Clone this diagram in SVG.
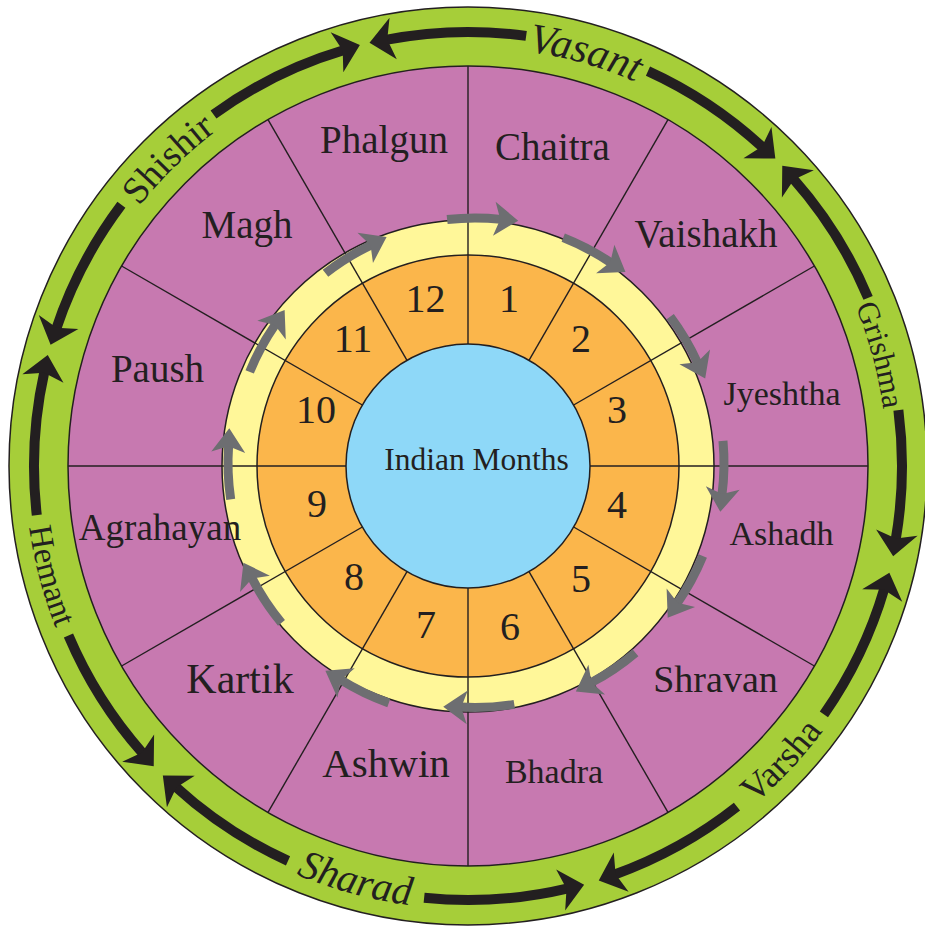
<svg xmlns="http://www.w3.org/2000/svg" width="925" height="927" viewBox="0 0 925 927">
<style>
.t{font-family:'Liberation Serif','Times New Roman',Times,'DejaVu Serif',serif;fill:#231f20;text-anchor:middle}
.m{font-size:39px}
.n{font-size:40px}
.ring{stroke:#231f20;stroke-width:1.5}
.sep{stroke:#231f20;stroke-width:1.4}
.blk{fill:none;stroke:#231f20;stroke-width:10}
.gry{fill:none;stroke:#6d6e71;stroke-width:9}
</style>
<defs>
<path id="cwPath" d="M 468 47 A 419 419 0 1 1 468 885 A 419 419 0 1 1 468 47"/>
<path id="ccwPath" d="M 468 23 A 443 443 0 1 0 468 909 A 443 443 0 1 0 468 23"/>
<polygon id="hcw" points="468,11 492,32 468,53 474,32" fill="#231f20"/>
<polygon id="hccw" points="468,11 444,32 468,53 462,32" fill="#231f20"/>
<g id="ga">
<circle cx="475" cy="463" r="246" class="gry" stroke-dasharray="54.1 3000" transform="rotate(-97.5 475 463)"/>
<polygon points="475,200 499,217 475,234 481,217" fill="#6d6e71" transform="rotate(3.5 475 463)"/>
</g>
</defs>

<g id="rings">
<circle cx="468" cy="466" r="459" fill="#a6ce39" class="ring"/>
<circle cx="468" cy="466" r="400" fill="#c779b0" class="ring"/>
<circle cx="468" cy="466" r="246" fill="#fff799" class="ring"/>
<circle cx="468" cy="466" r="211" fill="#fbb64b" class="ring"/>
</g>
<g id="sectors" class="sep">
<line x1="468" y1="344" x2="468" y2="66" transform="rotate(0 468 466)"/>
<line x1="468" y1="344" x2="468" y2="66" transform="rotate(30 468 466)"/>
<line x1="468" y1="344" x2="468" y2="66" transform="rotate(60 468 466)"/>
<line x1="468" y1="344" x2="468" y2="66" transform="rotate(90 468 466)"/>
<line x1="468" y1="344" x2="468" y2="66" transform="rotate(120 468 466)"/>
<line x1="468" y1="344" x2="468" y2="66" transform="rotate(150 468 466)"/>
<line x1="468" y1="344" x2="468" y2="66" transform="rotate(180 468 466)"/>
<line x1="468" y1="344" x2="468" y2="66" transform="rotate(210 468 466)"/>
<line x1="468" y1="344" x2="468" y2="66" transform="rotate(240 468 466)"/>
<line x1="468" y1="344" x2="468" y2="66" transform="rotate(270 468 466)"/>
<line x1="468" y1="344" x2="468" y2="66" transform="rotate(300 468 466)"/>
<line x1="468" y1="344" x2="468" y2="66" transform="rotate(330 468 466)"/>
</g>
<g id="center">
<circle cx="468" cy="466" r="122" fill="#8ed8f8" class="ring"/>
<text class="t" x="476.5" y="470" font-size="31.5">Indian Months</text>
</g>

<g id="months">
<g id="m-chaitra"><text class="t m" x="552.5" y="160" font-size="40">Chaitra</text></g>
<g id="m-vaishakh"><text class="t m" x="706" y="247">Vaishakh</text></g>
<g id="m-jyeshtha"><text class="t" x="782" y="405" font-size="34">Jyeshtha</text></g>
<g id="m-ashadh"><text class="t" x="781.5" y="545" font-size="34">Ashadh</text></g>
<g id="m-shravan"><text class="t" x="715.5" y="692" font-size="38">Shravan</text></g>
<g id="m-bhadra"><text class="t" x="554" y="783" font-size="34">Bhadra</text></g>
<g id="m-ashwin"><text class="t" x="386" y="777" font-size="41">Ashwin</text></g>
<g id="m-kartik"><text class="t" x="240" y="693" font-size="42">Kartik</text></g>
<g id="m-agrahayan"><text class="t" x="160" y="540" font-size="37">Agrahayan</text></g>
<g id="m-paush"><text class="t m" x="157.5" y="382">Paush</text></g>
<g id="m-magh"><text class="t m" x="247" y="238">Magh</text></g>
<g id="m-phalgun"><text class="t m" x="384" y="153">Phalgun</text></g>
</g>

<g id="numbers" class="t n">
<g id="n1"><text x="509" y="312">1</text></g>
<g id="n2"><text x="581" y="352">2</text></g>
<g id="n3"><text x="617" y="423">3</text></g>
<g id="n4"><text x="617" y="518">4</text></g>
<g id="n5"><text x="581" y="592">5</text></g>
<g id="n6"><text x="510" y="640">6</text></g>
<g id="n7"><text x="426" y="638">7</text></g>
<g id="n8"><text x="354" y="590">8</text></g>
<g id="n9"><text x="317" y="517">9</text></g>
<g id="n10"><text x="316" y="423">10</text></g>
<g id="n11"><text x="353" y="352">11</text></g>
<g id="n12"><text x="425.5" y="312">12</text></g>
</g>

<g id="seasons">
<g id="s-vasant"><text class="t" font-size="42" font-style="italic"><textPath href="#cwPath" startOffset="116.3">Vasant</textPath></text></g>
<g id="s-grishma"><text class="t" font-size="31"><textPath href="#cwPath" startOffset="547.7">Grishma</textPath></text></g>
<g id="s-varsha"><text class="t" font-size="37"><textPath href="#ccwPath" startOffset="1752.8">Varsha</textPath></text></g>
<g id="s-sharad"><text class="t" font-size="41" font-style="italic"><textPath href="#ccwPath" startOffset="1274.2">Sharad</textPath></text></g>
<g id="s-hemant"><text class="t" font-size="33"><textPath href="#ccwPath" startOffset="809.5">Hemant</textPath></text></g>
<g id="s-shishir"><text class="t" font-size="38"><textPath href="#cwPath" startOffset="2307.9">Shishir</textPath></text></g>
</g>

<g id="connectors">
<g id="season-arrows">
<circle cx="468" cy="466" r="434" class="blk" stroke-dasharray="141.1 3000" transform="rotate(259.07 468 466)"/>
<use href="#hccw" transform="rotate(350.07 468 466)"/>
<circle cx="468" cy="466" r="434" class="blk" stroke-dasharray="138.8 3000" transform="rotate(-65.5 468 466)"/>
<use href="#hcw" transform="rotate(41.83 468 466)"/>
<circle cx="468" cy="466" r="434" class="blk" stroke-dasharray="141.9 3000" transform="rotate(-41.53 468 466)"/>
<use href="#hccw" transform="rotate(49.47 468 466)"/>
<circle cx="468" cy="466" r="434" class="blk" stroke-dasharray="130.5 3000" transform="rotate(-7.4 468 466)"/>
<use href="#hcw" transform="rotate(98.83 468 466)"/>
<circle cx="468" cy="466" r="434" class="blk" stroke-dasharray="140.4 3000" transform="rotate(16.37 468 466)"/>
<use href="#hccw" transform="rotate(107.37 468 466)"/>
<circle cx="468" cy="466" r="434" class="blk" stroke-dasharray="141.1 3000" transform="rotate(51.7 468 466)"/>
<use href="#hcw" transform="rotate(159.33 468 466)"/>
<circle cx="468" cy="466" r="434" class="blk" stroke-dasharray="144.9 3000" transform="rotate(76.67 468 466)"/>
<use href="#hccw" transform="rotate(167.67 468 466)"/>
<circle cx="468" cy="466" r="434" class="blk" stroke-dasharray="135.8 3000" transform="rotate(114.5 468 466)"/>
<use href="#hcw" transform="rotate(221.43 468 466)"/>
<circle cx="468" cy="466" r="434" class="blk" stroke-dasharray="140.4 3000" transform="rotate(138.47 468 466)"/>
<use href="#hccw" transform="rotate(229.47 468 466)"/>
<circle cx="468" cy="466" r="434" class="blk" stroke-dasharray="144.9 3000" transform="rotate(173.5 468 466)"/>
<use href="#hcw" transform="rotate(281.63 468 466)"/>
<circle cx="468" cy="466" r="434" class="blk" stroke-dasharray="141.1 3000" transform="rotate(198.37 468 466)"/>
<use href="#hccw" transform="rotate(289.37 468 466)"/>
<circle cx="468" cy="466" r="434" class="blk" stroke-dasharray="146.4 3000" transform="rotate(234.1 468 466)"/>
<use href="#hcw" transform="rotate(342.43 468 466)"/>
</g>
<g id="month-arrows">
<use href="#ga" transform="rotate(1 475 463) translate(0 1)"/>
<use href="#ga" transform="rotate(29 475 463) translate(0 4)"/>
<use href="#ga" transform="rotate(60.7 475 463) translate(0 2)"/>
<use href="#ga" transform="rotate(92.3 475 463) translate(0 -3)"/>
<use href="#ga" transform="rotate(119.7 475 463)"/>
<use href="#ga" transform="rotate(147.2 475 463) translate(0 -2.5)"/>
<use href="#ga" transform="rotate(178.3 475 463) translate(0 1.5)"/>
<use href="#ga" transform="rotate(207 475 463) translate(0 -9)"/>
<use href="#ga" transform="rotate(237.8 475 463) translate(0 -5)"/>
<use href="#ga" transform="rotate(269 475 463) translate(0 -1)"/>
<use href="#ga" transform="rotate(299.6 475 463) translate(0 3)"/>
<use href="#ga" transform="rotate(329.4 475 463) translate(0 4.5)"/>
</g>
</g>
</svg>
